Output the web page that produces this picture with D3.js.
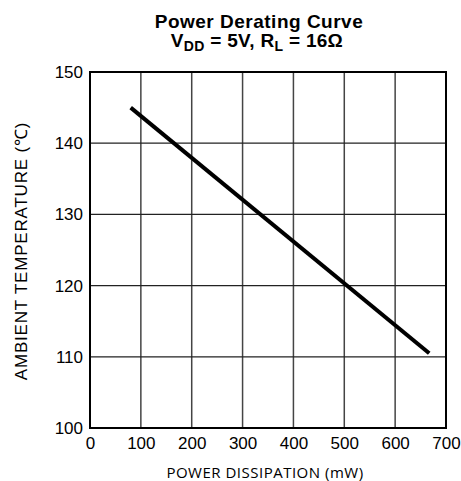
<!DOCTYPE html>
<html>
<head>
<meta charset="utf-8">
<script src="https://cdn.jsdelivr.net/npm/d3@7"></script>
<style>
  body { margin: 0; background: #fff; }
</style>
</head>
<body>
<div id="output"></div>
<script>
// curve end points
const powerMw = [80, 667];
const tempC = [145, 110.5];
const xTicks = [0, 100, 200, 300, 400, 500, 600, 700];
const yTicks = [100, 110, 120, 130, 140, 150];

const width = 461, height = 481;
const margin = { top: 72, right: 15, bottom: 53, left: 90 };
const w = width - margin.left - margin.right;
const h = height - margin.top - margin.bottom;
const sans = "Liberation Sans, Arial, sans-serif";

const svg = d3.select("#output").append("svg")
    .attr("width", width)
    .attr("height", height)
    .style("font-family", sans);

const g = svg.append("g")
    .attr("transform", `translate(${margin.left},${margin.top})`);

const x = d3.scaleLinear().domain([0, 700]).range([0, w]);
const y = d3.scaleLinear().domain([100, 150]).range([h, 0]);

// Grid
g.append("g")
    .selectAll("line")
    .data(xTicks.slice(1, -1))
    .enter().append("line")
    .attr("x1", d => x(d)).attr("x2", d => x(d))
    .attr("y1", 0).attr("y2", h)
    .attr("stroke", "#444").attr("stroke-width", 1.5);

g.append("g")
    .selectAll("line")
    .data(yTicks.slice(1, -1))
    .enter().append("line")
    .attr("x1", 0).attr("x2", w)
    .attr("y1", d => y(d)).attr("y2", d => y(d))
    .attr("stroke", "#222").attr("stroke-width", 1.3);

// Frame
g.append("rect")
    .attr("width", w).attr("height", h)
    .attr("fill", "none")
    .attr("stroke", "#000").attr("stroke-width", 2);

// Axes (labels only)
const xAxis = g.append("g")
    .attr("transform", `translate(0,${h})`)
    .call(d3.axisBottom(x).tickValues(xTicks).tickSize(0).tickPadding(9));
const yAxis = g.append("g")
    .call(d3.axisLeft(y).tickValues(yTicks).tickSize(0).tickPadding(7));
[xAxis, yAxis].forEach(a => {
  a.select(".domain").remove();
  a.selectAll("text")
      .attr("font-size", 17)
      .attr("font-family", sans)
      .attr("fill", "#000");
});

// Curve
const line = d3.line()
    .x((d, i) => x(powerMw[i]))
    .y(d => y(d));
g.append("path")
    .datum(tempC)
    .attr("d", line)
    .attr("fill", "none")
    .attr("stroke", "#000")
    .attr("stroke-width", 4);

// Title
svg.append("text")
    .attr("x", 259).attr("y", 28)
    .attr("text-anchor", "middle")
    .attr("font-weight", "bold")
    .attr("font-size", 19)
    .attr("letter-spacing", 0.5)
    .text("Power Derating Curve");
const t2 = svg.append("text")
    .attr("x", 257).attr("y", 47)
    .attr("text-anchor", "middle")
    .attr("font-weight", "bold")
    .attr("font-size", 19)
    .attr("letter-spacing", 0.3);
t2.append("tspan").text("V");
t2.append("tspan").attr("font-size", 14).attr("dy", 4).text("DD");
t2.append("tspan").attr("dy", -4).text(" = 5V, R");
t2.append("tspan").attr("font-size", 14).attr("dy", 4).text("L");
t2.append("tspan").attr("dy", -4).text(" = 16Ω");

// Axis titles
svg.append("text")
    .attr("transform", "translate(27,251) rotate(-90)")
    .attr("text-anchor", "middle")
    .attr("font-size", 17)
    .attr("letter-spacing", 0.8)
    .text("AMBIENT TEMPERATURE  (℃)");

svg.append("text")
    .attr("x", 265).attr("y", 478)
    .attr("text-anchor", "middle")
    .attr("font-size", 15)
    .attr("letter-spacing", 0.5)
    .style("font-family", "'Open Sans', sans-serif")
    .text("POWER DISSIPATION (mW)");
</script>
</body>
</html>
